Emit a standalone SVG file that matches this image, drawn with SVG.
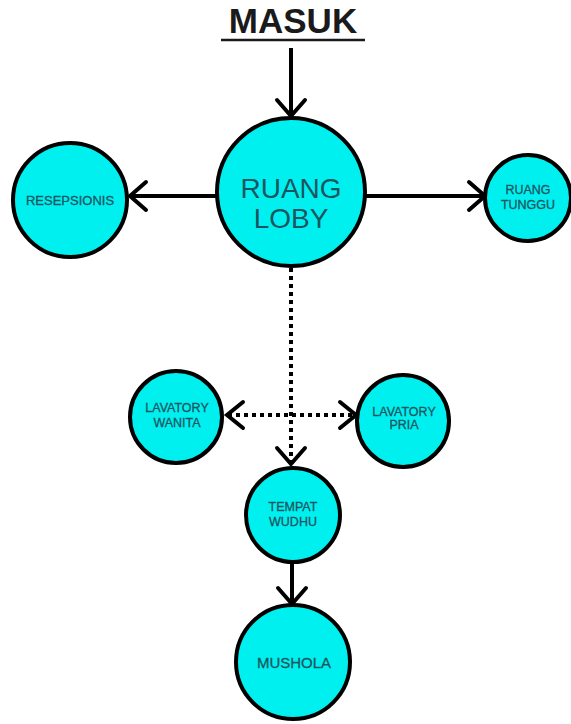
<svg xmlns="http://www.w3.org/2000/svg" width="571" height="724" viewBox="0 0 571 724">
<style>
.node{fill:#00f0f0;stroke:#000;stroke-width:4}
.lbl{font-family:"Liberation Sans",Arial,sans-serif;fill:#1c5560;text-anchor:middle}
.sm{font-size:12.5px;stroke:#1c5560;stroke-width:0.3}
.edge{stroke:#000;stroke-width:4;fill:none}
.dot{stroke:#000;stroke-width:4;fill:none;stroke-dasharray:4 4}
.head{stroke:#000;stroke-width:4;fill:none;stroke-linecap:round;stroke-linejoin:miter}
</style>
<rect width="571" height="724" fill="#fff"/>
<text x="293" y="33" font-family="Liberation Sans,Arial,sans-serif" font-weight="bold" font-size="35" text-anchor="middle" fill="#1a1a1a">MASUK</text>
<line x1="221" y1="40" x2="365" y2="40" stroke="#1a1a1a" stroke-width="2.5"/>
<g id="connectors">
<line class="edge" x1="291" y1="48" x2="291" y2="115"/>
<polyline class="head" points="277,100 291,116 305,100"/>
<line class="edge" x1="217" y1="196" x2="130" y2="196"/>
<polyline class="head" points="146,182 130,196 146,210"/>
<line class="edge" x1="366" y1="196" x2="485" y2="196"/>
<polyline class="head" points="469,182 485,196 469,210"/>
<line class="dot" x1="291" y1="268" x2="291" y2="462"/>
<polyline class="head" points="277,448 291,464 305,448"/>
<line class="dot" x1="228" y1="415" x2="355" y2="415"/>
<polyline class="head" points="243,402 227,415 243,428"/>
<polyline class="head" points="340,402 356,415 340,428"/>
<line class="edge" x1="292" y1="563" x2="292" y2="603"/>
<polyline class="head" points="278,588 292,604 306,588"/>
</g>
<g id="ruang-loby">
<circle class="node" cx="291" cy="192" r="74"/>
<text class="lbl" x="291" y="198" font-size="28">RUANG</text>
<text class="lbl" x="291" y="228" font-size="28">LOBY</text>
</g>
<g id="resepsionis">
<circle class="node" cx="70" cy="200" r="57"/>
<text class="lbl sm" x="70" y="205" style="font-size:13px">RESEPSIONIS</text>
</g>
<g id="ruang-tunggu">
<circle class="node" cx="528" cy="198" r="43"/>
<text class="lbl sm" x="528" y="194">RUANG</text>
<text class="lbl sm" x="528" y="209">TUNGGU</text>
</g>
<g id="lavatory-wanita">
<circle class="node" cx="176" cy="417" r="46"/>
<text class="lbl sm" x="177" y="412">LAVATORY</text>
<text class="lbl sm" x="177" y="427">WANITA</text>
</g>
<g id="lavatory-pria">
<circle class="node" cx="403" cy="421" r="46"/>
<text class="lbl sm" x="404" y="416">LAVATORY</text>
<text class="lbl sm" x="404" y="429">PRIA</text>
</g>
<g id="tempat-wudhu">
<circle class="node" cx="293" cy="515" r="47"/>
<text class="lbl sm" x="293" y="511">TEMPAT</text>
<text class="lbl sm" x="293" y="526">WUDHU</text>
</g>
<g id="mushola">
<circle class="node" cx="293" cy="662" r="57"/>
<text class="lbl sm" x="294" y="668" style="font-size:15px">MUSHOLA</text>
</g>
</svg>
